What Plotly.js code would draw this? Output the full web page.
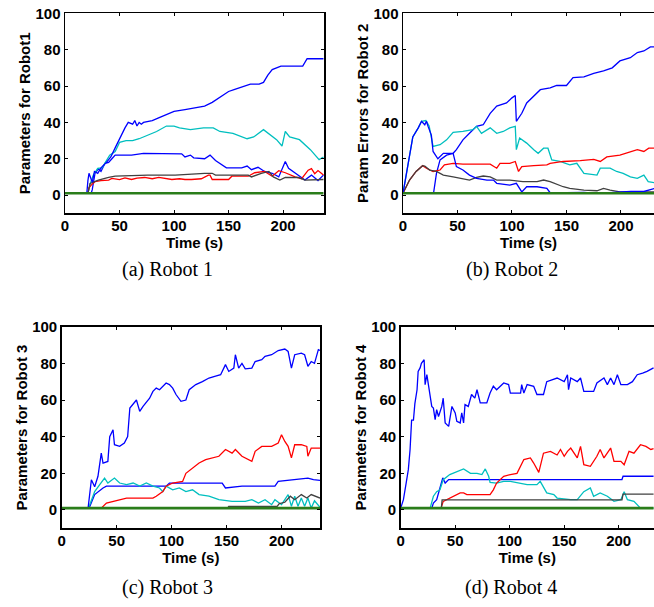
<!DOCTYPE html>
<html>
<head>
<meta charset="utf-8">
<script src="https://cdn.plot.ly/plotly-3.0.1.min.js"></script>
<style>html,body{margin:0;padding:0;background:#fff;}#chart{width:654px;height:607px;}</style>
</head>
<body>
<div id="chart"></div>
<script>
// ---------- Robot 1 ----------
const r1BlueA_t = [0,20,21,22,25,27,30,33,38,42,46,50,55,58,62,64,66,68,70,72,80,88,95,100,110,120,128,135,140,145,150,155,160,165,170,178,182,186,190,198,210,218,222,237];
const r1BlueA_y = [1,1,8,12,7,13,12,15,18,21,26,31,37,40,39,41,38,40,39,40,41,43,45,46,47,48,49,51,53,55,57,58,59,60,61,61,62,66,69,71,71,71,75,75];
const r1BlueB_t = [0,24,25,27.5,30.6,33,36.7,40,43,46,61,70,72,107,110,115,118,128,133,138,144,148,162,167,171,177,183,190,196,199,202,205,211,220,226,232,237];
const r1BlueB_y = [1,1,3,12,14.5,13,17.5,18,20,22,22,22.7,23,22.7,21,22,20.5,20,22,19,16.5,15,15,16,14,15.3,13,12,10,14,18.5,14.7,12,8.3,11,8,11];
const r1Cyan_t = [0,21,23,26,30,34,38,41,46,50,56,62,68,76,84,93,100,105,115,127,136,142,154,167,173,182,188,194,199,202,206,215,225,231,233,237];
const r1Cyan_y = [1,1,6,11,14.7,15,19,22,24,29,30,30,31,33,35,38,38,37,36,37,37,35,34,31,32,36,33,30.5,27,35,32,30.5,25,21,19.5,21];
const r1Red_t = [0,21,22,24,27.5,33,40,43,50,55,61,66,73,80,86,92,98,105,110,116,125,131.5,133,135,150,153,168,174,183,190,196,202,211,217,223,226,229,232,237];
const r1Red_y = [1,1,4,5.5,7.4,8,8.3,9.2,8.5,9.5,8.6,9.4,9.7,9,9.7,9,8.6,9,8.6,8.6,9,11,11,8.6,8.6,10.4,10.4,12.3,13,10.4,13.4,12.3,10,9,13.7,14.6,11.8,13.5,11];
const r1Gray_t = [0,21,23,30.6,40,46,76,101,128,135,138,168,171,180,187,191,197,202,214,220,237];
const r1Gray_y = [1,1,6.4,8.3,9.7,10.4,11,11,12,12,11,11,10,12,13,10,8.3,9.7,9.7,8.3,8.6];
const r1Green_t = [0,237];
const r1Green_y = [1,1];

// ---------- Robot 2 ----------
const r2BlueA_t = [0,4.6,9,14,17,20,21.5,23,26,27.6,32,37,46,49,55,61,67.5,77,83,86,98,104,109,113.5,123,132,135,150,166,178,193,209,221,227,231];
const r2BlueA_y = [1,15.7,32,37,40.6,38.7,40.6,37.8,33,24,20,23,23,15.7,13.8,11,9.2,8.3,8.3,6.5,5.5,6.5,1.8,4.6,4.6,3.7,1.3,1.3,1.5,1,1.5,2,2,2.8,3.7];
const r2BlueB_t = [0,28,30.7,34,40,46,49,55,61,67.5,73.6,80,86,95,100,103,104,109,113.5,120,126,135,141,150,156,166,175,184,192,199,208.6,215,221,227,231];
const r2BlueB_y = [1,1,12,19.4,22,23,25,30.4,34,37.8,38.7,45,49,50.7,53.5,54.8,40.6,45,50.7,54.4,58,59,60.3,60.3,64.6,65,67,68.3,70,73.8,75.6,78.4,79.3,81.5,81.5];
const r2Cyan_t = [0,4.6,9,14,17,21,24,27.6,34,40,46,55,64,67.5,72,80,86,92,98,103,104,107,113.5,120,124,129,133,136.5,144,153,159.5,166,178,181,190,196,202,208.6,215,221,225,231];
const r2Cyan_y = [1,15.7,32,37,40.6,41,38,26.8,27.7,30.4,34.5,35,36,37.8,34,37,34,35,37,37.8,25,31.4,28.6,25,23,25.8,25.8,19.4,18.5,16.6,17.5,12,11,14.8,14.8,13,12,10,9.2,11,7.4,6.8];
const r2Red_t = [0,6,12,18,21.5,27.6,34,38,46,55,70.5,80,86,89,98,103,106,109,120,132,135,147,162.6,175,181,187,199,208.6,215,221,225.5,231];
const r2Red_y = [1,8.3,13,16.2,14.8,13,13.8,16.6,17.5,17,17,17,14.8,17.5,17.5,18.5,13,15.7,16.2,16.6,17.5,18.5,19,19.7,18.5,21,22,24,25,24,25.8,25.8];
const r2Gray_t = [0,6,12,18,20,24.5,30.7,37,46,55,61,67.5,73.6,80,86,98,110,123,129,135,147,153,166,178,184,190,199,215,231];
const r2Gray_y = [1,8.3,13,16.2,16,13.8,13,11,10,9.2,8.3,9.8,10.5,10,8.3,8.3,7.4,7.4,8.3,7.4,4.6,3.7,2.8,2.4,3.7,2.8,1.8,1.8,1.8];
const r2Green_t = [0,231];
const r2Green_y = [1,1];

// ---------- Robot 3 ----------
const r3BlueA_t = [0,24,27,30,33,36,37.6,42,43.7,46.7,48,52.7,57,60,62,65,68,71,74,80,83,86,89,95,98,101,104,108.5,113,116,122,128,134,140,144.6,149,152,156.6,158,161,164,167,173,176,182,185,191,197,203,206,209,212,218,221,224,227,230,233.5,235];
const r3BlueA_y = [1,1,16.5,12.7,18.4,31,25.6,26.5,40,43.8,35.6,34.7,36.5,40,55.6,57.5,60,53.8,56.5,61,64.7,66.5,65.6,69.3,68.4,66.5,63,59.3,60,65.6,68.4,70,72,73,73.8,79.3,75.6,77.4,84.7,77.4,80,77,77.4,81,82,83.8,84.7,87,87.8,86.5,77.4,84.7,85.6,84.7,78.4,81,80,87.5,87];
const r3BlueB_t = [0,24,25.6,30,37.6,40.7,95,98,146,149,164,194,197,203,209,215,224,229,235];
const r3BlueB_y = [1,1,2,8.4,12,13,13,14.7,14.7,12,13,13,15.6,16,16.5,16.9,17.4,16.5,16.2];
const r3Cyan_t = [0,24,25.6,30,34.6,39,42,48,52.7,59,65,71,77,83,89,92,95,101,107,113,119,125,134,143,155,167,173,179,185,191,194,200,206,209,212,215,218,221,224,227,230,235];
const r3Cyan_y = [1,1,3,10,13.8,17.4,14.7,17.4,14.7,13.8,14.7,13,14.7,13,12,10,13,11,12,10,11,8.4,7.5,5.6,4.7,4.7,5.6,3.8,5.6,2.9,5.6,2.9,8.4,2,7.5,2,6.5,2,6.5,1,5,1.5];
const r3Red_t = [0,36,40.7,46.7,52.7,59,83,86,92,95,101,110,113,119,125,131,137,143,149,155,158,164,173,176,182,191,197,200,203,206,209,212,218,223,224,227,235];
const r3Red_y = [1,1,3.8,4.7,5.6,6.5,6.5,7.5,10,13,14.7,15.6,20,23,25.6,27.5,28.4,29.3,33,31,33,29.3,26.5,32,34.7,34.7,36.5,41,37.4,34.7,28.4,35.6,35.6,34.7,29.3,33.8,33.8];
const r3Gray_t = [0,151,152,196,198,203,208,212,218,223,227,235];
const r3Gray_y = [1,1,2,2,3.5,4.2,7.5,5.6,8.4,6.5,8.4,6.5];
const r3Green_t = [0,235];
const r3Green_y = [1,1];

// ---------- Robot 4 ----------
const r4BlueA_t = [0,2.5,5,7,8.6,10,11.7,13,15,16,17.8,19,21.5,22.4,24,25.5,27,28.5,30,31.6,33,34.7,37.7,39,40.8,44,47,50,51.5,54.6,56,57.7,59,62,65,68,70,73,79,82,85,88,94.5,99,100.6,110,111,113,116,122,125,131,134,143.5,150,153,154,156,162,165,168,177,180,186.5,189.6,192.6,195.7,198.8,202,208,212.6,217,222,226,232];
const r4BlueA_y = [1,5.6,14.7,22,33,49,49,58,65.6,75.6,77.5,80,82,68.4,73.8,68.4,61,56.5,55.6,49.3,54.7,51,56.5,61,47.5,45.6,56.5,53,48.4,47.5,53,47.5,57.5,56.5,63,61,65.6,58.4,58.4,63.8,67.5,65.6,69.3,68.4,63.8,63.8,68.4,63.8,68.4,67.5,63,63,70,72,70,73.8,65.6,72,70,72,64.7,64.7,69.3,72,68.4,72,68.4,73.8,68.4,68.4,70,73.8,74.7,75.6,77.5];
const r4BlueB_t = [0,28.5,30,33,36,38.6,40.8,44,203,204,232];
const r4BlueB_y = [1,1,3.8,5.6,12,17.5,14.7,16.6,16.6,18.4,18.4];
const r4Cyan_t = [0,27,30,33,36,39,45,51.5,57.7,64,70,74.5,77.6,80.7,82,88,94.5,100.6,110,116,125,128,134,140.5,143.5,156,162,168,174,177,183,189.6,195.7,202,205,208,214,218.7,220,232];
const r4Cyan_y = [1,1,7.5,10,11,16.5,19.3,21,22.4,20,20,19.3,22.4,18.4,15,14.7,15.6,15.6,14.7,13.8,13.8,15.6,9.3,8.4,6.5,5.6,5.6,10,12,7.5,9.3,7.5,4.7,5.6,10,5.6,4.7,2,1,1];
const r4Red_t = [0,37,39,45,54.6,57.7,60.7,82,85,88,94.5,100.6,106.7,113,119,122,126.7,131,137.4,143.5,146.6,150,153,156,162,165,168,174,180,183,186.5,192.6,195.7,202,205,209.5,214,220,225,229.5,232];
const r4Red_y = [1,1,4.7,6.5,9.3,9.3,8.4,8.4,11,14.7,18.4,19.3,20,27.5,28.4,25.6,20.5,31,32,30,33,29.3,32,33.8,28.4,34.7,24.7,23.8,29.3,33,28.4,33.8,26.5,26.5,24.7,32,31,35.6,34.7,33,33.5];
const r4Gray_t = [0,37.3,38,203,204,232];
const r4Gray_y = [1,1,5.5,5.5,8.7,8.7];
const r4Green_t = [0,232];
const r4Green_y = [1,1];

// ---------- Labels ----------
const yTitles = ["Parameters for Robot1", "Param Errors for Robot 2", "Parameters for Robot 3", "Parameters for Robot 4"];
const captions = ["(a) Robot 1", "(b) Robot 2", "(c) Robot 3", "(d) Robot 4"];
const xTitle = "Time (s)";
const xTickVals = [0, 50, 100, 150, 200];
const yTickVals = [0, 20, 40, 60, 80, 100];

// ---------- Styles ----------
const COL = {blue: "#0000ff", cyan: "#00bfbf", red: "#ff0000", gray: "#404040", green: "#2a7d1a"};

const robots = [
  {blueA:[r1BlueA_t,r1BlueA_y], blueB:[r1BlueB_t,r1BlueB_y], cyan:[r1Cyan_t,r1Cyan_y], red:[r1Red_t,r1Red_y], gray:[r1Gray_t,r1Gray_y], green:[r1Green_t,r1Green_y]},
  {blueA:[r2BlueA_t,r2BlueA_y], blueB:[r2BlueB_t,r2BlueB_y], cyan:[r2Cyan_t,r2Cyan_y], red:[r2Red_t,r2Red_y], gray:[r2Gray_t,r2Gray_y], green:[r2Green_t,r2Green_y]},
  {blueA:[r3BlueA_t,r3BlueA_y], blueB:[r3BlueB_t,r3BlueB_y], cyan:[r3Cyan_t,r3Cyan_y], red:[r3Red_t,r3Red_y], gray:[r3Gray_t,r3Gray_y], green:[r3Green_t,r3Green_y]},
  {blueA:[r4BlueA_t,r4BlueA_y], blueB:[r4BlueB_t,r4BlueB_y], cyan:[r4Cyan_t,r4Cyan_y], red:[r4Red_t,r4Red_y], gray:[r4Gray_t,r4Gray_y], green:[r4Green_t,r4Green_y]}
];

const W = 654, H = 607;
// pixel boxes [left, right, top, bottom] and x ranges
const boxes = [
  {l:65, r:324, t:13.3, b:213.3, xr:237.5, rightLine:true},
  {l:403, r:654, t:13.3, b:213.3, xr:230.3, rightLine:false},
  {l:61.7, r:320, t:326.7, b:528.3, xr:235, rightLine:true},
  {l:400.7, r:654, t:326.7, b:528.3, xr:232.4, rightLine:false}
];

const tickFont = {family: "Liberation Sans, Arial, sans-serif", size: 15, color: "#000", weight: "bold"};
const data = [];
const layout = {
  width: W, height: H,
  margin: {l:0, r:0, t:0, b:0},
  paper_bgcolor: "#fff", plot_bgcolor: "#fff",
  showlegend: false,
  annotations: []
};

const order = ["blueB", "cyan", "red", "gray", "blueA", "green"];
robots.forEach((rb, i) => {
  const n = i + 1;
  const xa = n === 1 ? "x" : "x" + n;
  const ya = n === 1 ? "y" : "y" + n;
  order.forEach(k => {
    const c = k.startsWith("blue") ? COL.blue : COL[k];
    data.push({
      type: "scatter", mode: "lines",
      x: rb[k][0], y: rb[k][1],
      xaxis: xa, yaxis: ya,
      line: {color: c, width: k === "green" ? 2.6 : 1.3},
      hoverinfo: "skip"
    });
  });
  const bx = boxes[i];
  layout["xaxis" + (n === 1 ? "" : n)] = {
    domain: [bx.l / W, bx.r / W],
    anchor: ya,
    range: [0, bx.xr],
    tickvals: xTickVals,
    ticks: "inside", ticklen: 3, tickwidth: 1, tickcolor: "#000",
    ticklabelstandoff: -2,
    showline: true, linecolor: "#000", linewidth: 1.5,
    mirror: "ticks",
    showgrid: false, zeroline: false,
    tickfont: tickFont,
    title: {text: xTitle, font: tickFont, standoff: 0}
  };
  layout["yaxis" + (n === 1 ? "" : n)] = {
    domain: [1 - bx.b / H, 1 - bx.t / H],
    anchor: xa,
    range: [-10, 100],
    tickvals: yTickVals,
    ticks: "inside", ticklen: 3, tickwidth: 1, tickcolor: "#000",
    showline: true, linecolor: "#000", linewidth: 1.5,
    mirror: bx.rightLine ? "ticks" : false,
    showgrid: false, zeroline: false,
    tickfont: tickFont,
    title: {text: yTitles[i], font: tickFont, standoff: 1}
  };
});

const capPos = [[167, 270], [512, 270], [167, 587], [511, 587]];
captions.forEach((c, i) => {
  layout.annotations.push({
    text: c, xref: "paper", yref: "paper",
    x: capPos[i][0] / W, y: 1 - capPos[i][1] / H,
    xanchor: "center", yanchor: "middle", showarrow: false,
    font: {family: "Liberation Serif, Times New Roman, serif", size: 20, color: "#000"}
  });
});

Plotly.newPlot("chart", data, layout, {staticPlot: true, displayModeBar: false});
</script>
</body>
</html>
